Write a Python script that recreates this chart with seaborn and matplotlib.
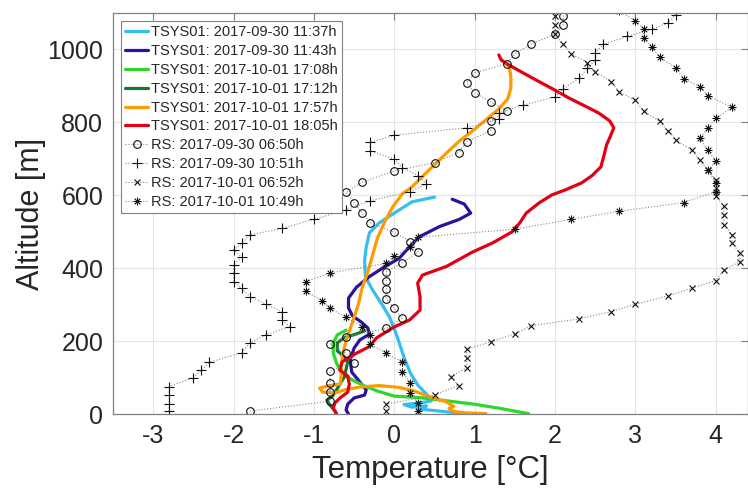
import matplotlib
matplotlib.use("Agg")
import matplotlib.pyplot as plt
import seaborn as sns
import numpy as np

# ---------------- TSYS01 profiles (temperature [°C], altitude [m]) ----------------
cyan_t = [0.50, 0.22, 0.02, -0.19, -0.31, -0.35, -0.37, -0.36, -0.27, -0.15, -0.06, 0.02,
          0.12, 0.20, 0.29, 0.41, 0.46, 0.31, 0.12, 0.21, 0.40, 0.29, 0.56, 0.91]
cyan_a = [595, 582, 554, 524, 497, 458, 422, 376, 340, 299, 266, 222,
          156, 112, 80, 52, 36, 30, 26, 19, 22, 14, 8, 0]

indigo_t = [0.72, 0.87, 0.95, 0.81, 0.56, 0.31, 0.19, 0.06, -0.12, -0.31, -0.47, -0.57, -0.57,
            -0.52, -0.41, -0.33, -0.31, -0.43, -0.50, -0.55, -0.53, -0.43, -0.35, -0.37,
            -0.50, -0.58, -0.60, -0.57]
indigo_a = [589, 576, 551, 534, 514, 486, 459, 427, 404, 377, 348, 318, 291,
            269, 252, 236, 219, 203, 181, 148, 115, 88, 66, 52,
            44, 27, 11, 0]

green_t = [-0.60, -0.71, -0.76, -0.76, -0.72, -0.65, -0.52, -0.37, -0.21, 0.00, 0.31, 0.62,
           0.99, 1.30, 1.67]
green_a = [230, 217, 195, 167, 140, 112, 93, 77, 63, 49, 45, 37, 27, 16, 1]

dkgreen_t = [-0.37, -0.48, -0.62, -0.71, -0.71, -0.63, -0.58, -0.60, -0.62, -0.67, -0.72,
             -0.77, -0.84, -0.81, -0.76, -0.72]
dkgreen_a = [228, 219, 210, 195, 173, 159, 143, 123, 102, 85, 66, 49, 38, 27, 14, 1]

orange_t = [1.34, 1.43, 1.45, 1.45, 1.41, 1.30, 1.14, 0.97, 0.81, 0.65, 0.43, 0.22, 0.10,
            -0.02, -0.12, -0.21, -0.27, -0.33, -0.40, -0.45, -0.52, -0.60, -0.65, -0.66,
            -0.67, -0.81, -0.93, -0.89, -0.74, -0.62, -0.43, -0.19, 0.06, 0.25, 0.43,
            0.65, 0.74, 0.68, 0.74, 0.89, 1.14]
orange_a = [971, 952, 925, 894, 864, 837, 807, 776, 749, 716, 669, 623, 604,
            568, 527, 483, 436, 390, 346, 299, 252, 203, 156, 112,
            82, 78, 71, 60, 58, 66, 74, 78, 73, 63, 48,
            33, 21, 15, 7, 3, 1]

red_t = [1.30, 1.33, 1.39, 1.55, 1.74, 1.96, 2.17, 2.37, 2.54, 2.68, 2.73, 2.69, 2.64, 2.61,
         2.57, 2.46, 2.33, 2.13, 1.96, 1.80, 1.64, 1.56, 1.46, 1.22, 0.97, 0.65, 0.35,
         0.29, 0.32, 0.32, 0.19, 0.00, -0.22, -0.31, -0.47, -0.65, -0.68, -0.58, -0.56,
         -0.58, -0.68, -0.74, -0.76, -0.72]
red_a = [985, 971, 962, 942, 919, 893, 867, 845, 826, 804, 785, 763, 738, 711,
         678, 654, 634, 615, 601, 579, 551, 524, 499, 469, 444, 405, 381,
         359, 321, 285, 258, 239, 209, 185, 167, 143, 121, 104, 82,
         60, 43, 30, 16, 1]

# ---------------- Radiosonde profiles ----------------
rs1_t = [-1.80, -0.80, -0.80, -0.80, -0.80, -0.50, -0.60, -0.80, -0.60, -0.10, 0.10, 0.00,
         -0.10, -0.10, -0.10, -0.10, 0.10, 0.30, 0.20, 0.00, -0.30, -0.40, -0.50, -0.60,
         -0.40, 0.00, 0.50, 0.80, 0.90, 1.20, 1.20, 1.40, 1.20, 1.00, 0.90, 1.00, 1.40,
         1.50, 1.70, 2.00, 2.10, 2.10]
rs1_a = [8, 35, 61, 86, 118, 141, 167, 191, 212, 235, 263, 290,
         316, 342, 366, 390, 415, 445, 473, 498, 525, 551, 579, 608,
         636, 667, 689, 717, 747, 777, 804, 831, 856, 881, 908, 936, 961,
         988, 1015, 1042, 1067, 1093]

rs2_t = [-2.80, -2.80, -2.80, -2.80, -2.50, -2.40, -2.30, -1.90, -1.80, -1.60, -1.30, -1.40,
         -1.40, -1.60, -1.80, -1.90, -2.00, -2.00, -2.00, -1.90, -2.00, -1.90, -1.80, -1.40,
         -1.00, -0.60, -0.30, 0.20, 0.40, 0.30, 0.10, 0.00, -0.30, -0.30, 0.00, 0.90,
         1.30, 1.30, 1.60, 2.00, 2.10, 2.30, 2.40, 2.50, 2.50, 2.60, 2.90, 3.20, 3.40, 3.50]
rs2_a = [8, 27, 51, 75, 100, 121, 142, 168, 194, 217, 240, 258,
         281, 302, 322, 345, 363, 388, 409, 430, 450, 468, 491, 509,
         534, 560, 585, 610, 631, 653, 676, 699, 722, 745, 765, 785,
         810, 826, 847, 870, 892, 921, 948, 971, 991, 1014, 1036, 1055, 1072, 1095]

rs3_t = [-0.10, -0.10, 0.50, 0.80, 0.70, 0.90, 0.90, 0.90, 1.20, 1.50, 1.70, 2.30, 2.70,
         3.00, 3.40, 3.70, 4.00, 4.10, 4.30, 4.30, 4.20, 4.20, 4.10, 4.10, 4.10, 4.00,
         4.00, 4.00, 3.90, 3.80, 3.70, 3.50, 3.40, 3.30, 3.10, 3.00, 2.80, 2.70, 2.50,
         2.40, 2.20, 2.10, 2.00, 2.00, 2.00]
rs3_a = [8, 27, 52, 78, 102, 127, 153, 177, 198, 220, 242, 261, 281,
         301, 324, 345, 366, 395, 418, 443, 468, 492, 519, 545, 571, 597,
         620, 642, 669, 697, 724, 752, 776, 803, 831, 860, 884, 911, 939,
         964, 988, 1014, 1042, 1067, 1093]

rs4_t = [0.30, 0.30, 0.20, 0.20, 0.10, 0.10, -0.10, -0.30, -0.30, -0.40, -0.60, -0.80,
         -0.90, -1.10, -1.10, -0.80, -0.10, 0.00, 0.20, 0.30, 1.50, 2.20, 2.80, 3.60,
         4.00, 4.00, 3.90, 4.00, 3.90, 3.80, 3.90, 4.00, 4.20, 3.90, 3.80, 3.60, 3.50,
         3.30, 3.20, 3.10, 3.10, 3.00, 2.80]
rs4_a = [8, 30, 58, 86, 116, 142, 167, 191, 217, 240, 265, 290,
         311, 337, 363, 387, 413, 433, 459, 485, 507, 534, 556, 580,
         610, 634, 669, 693, 724, 756, 785, 811, 841, 873, 898, 920, 949,
         979, 1006, 1032, 1056, 1079, 1105]

tsys = [
    (cyan_t, cyan_a, "#35bff0", "TSYS01: 2017-09-30 11:37h"),
    (indigo_t, indigo_a, "#2e109e", "TSYS01: 2017-09-30 11:43h"),
    (green_t, green_a, "#2ed62e", "TSYS01: 2017-10-01 17:08h"),
    (dkgreen_t, dkgreen_a, "#127a2c", "TSYS01: 2017-10-01 17:12h"),
    (orange_t, orange_a, "#ff9a00", "TSYS01: 2017-10-01 17:57h"),
    (red_t, red_a, "#e30014", "TSYS01: 2017-10-01 18:05h"),
]
ASTERISK = (8, 2, 0)
rs = [
    (rs1_t, rs1_a, "o", 5.5, 0.8, "RS: 2017-09-30 06:50h"),
    (rs2_t, rs2_a, "+", 7, 0.8, "RS: 2017-09-30 10:51h"),
    (rs3_t, rs3_a, "x", 4.5, 0.8, "RS: 2017-10-01 06:52h"),
    (rs4_t, rs4_a, ASTERISK, 5.5, 0.6, "RS: 2017-10-01 10:49h"),
]

sns.set_style("white")
plt.rcParams["font.family"] = ["Liberation Sans", "DejaVu Sans"]
plt.rcParams["axes.unicode_minus"] = False

fig = plt.figure(figsize=(7.48, 4.94), dpi=100)
ax = fig.add_axes([113 / 748, 80 / 494, 635 / 748, 401 / 494])

for t, a, c, lab in tsys:
    sns.lineplot(x=t, y=a, ax=ax, sort=False, estimator=None, color=c,
                 linewidth=2.3, label=lab, legend=False)

for t, a, m, ms, mew, lab in rs:
    sns.lineplot(x=t, y=a, ax=ax, sort=False, estimator=None, color="#8a8a8a",
                 linewidth=0.8, linestyle=":", marker=m, markersize=ms,
                 markeredgecolor="#111111", markerfacecolor="none",
                 markeredgewidth=mew, label=lab, legend=False)

ax.set_xlim(-3.5, 4.4)
ax.set_ylim(0, 1100)
ax.set_xticks(np.arange(-3, 5, 1))
ax.set_yticks(np.arange(0, 1001, 200))
ax.grid(True, color="#e4e4e4", linewidth=0.8)
ax.set_axisbelow(True)
for s in ax.spines.values():
    s.set_color("#808080")
    s.set_linewidth(0.9)
ax.tick_params(direction="in", length=5, width=0.8, color="#808080",
               top=True, right=True, labelsize=18, pad=7, labelcolor="#262626")
ax.set_xlabel("Temperature [°C]", fontsize=22.5, color="#262626", labelpad=5)
ax.set_ylabel("Altitude [m]", fontsize=22, color="#262626", labelpad=1)

leg = ax.legend(loc="upper left", fontsize=10.5, handlelength=1.55, handletextpad=0.2,
                labelspacing=0.33, borderaxespad=0.55, borderpad=0.3, fancybox=False,
                framealpha=1, edgecolor="#808080")
leg.get_frame().set_linewidth(0.8)

fig.savefig("out.png", dpi=100)
